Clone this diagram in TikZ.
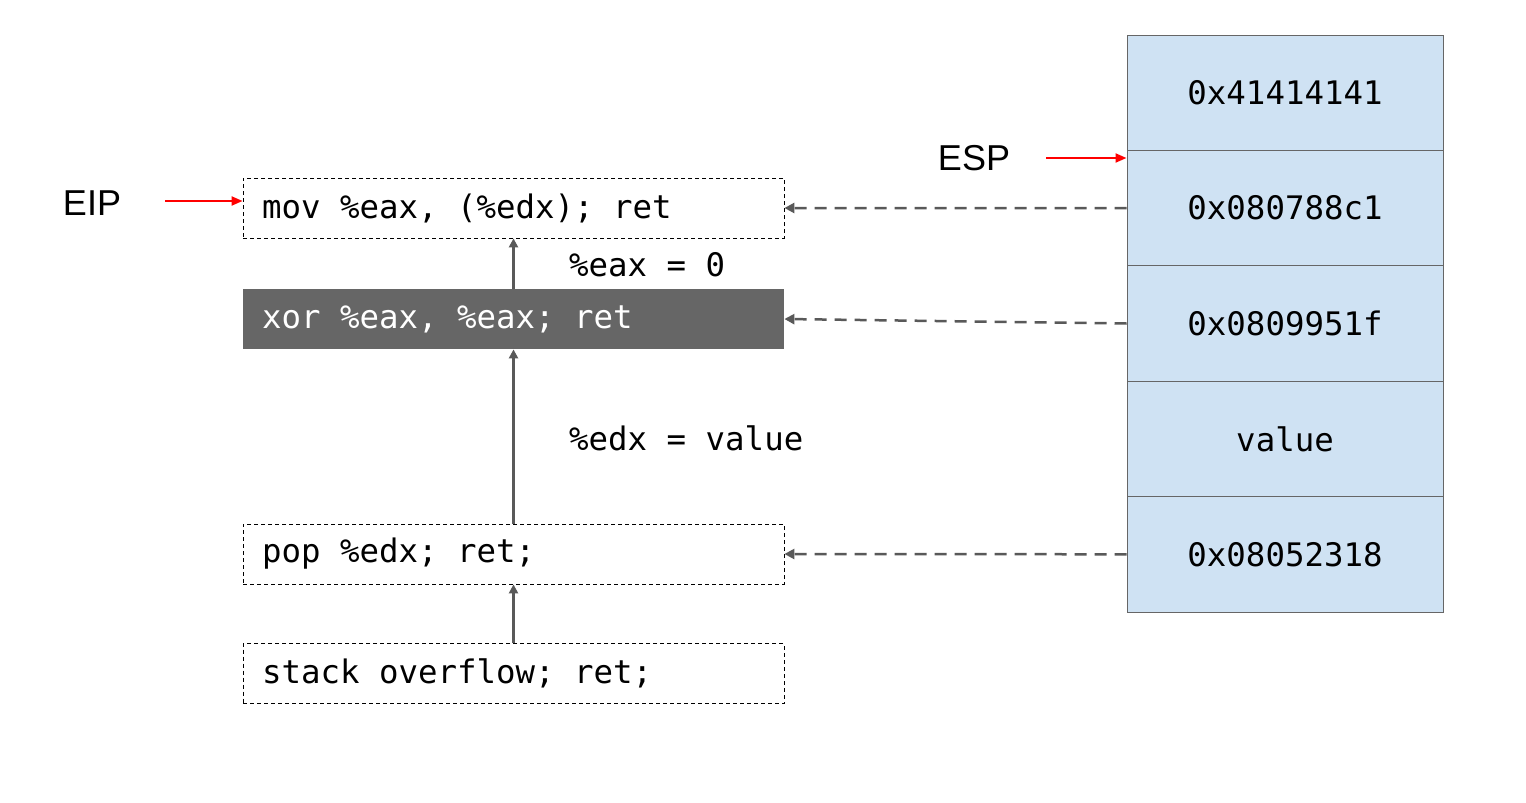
\documentclass[tikz,border=0pt]{standalone}
\usepackage{fontspec}
\setmainfont{Liberation Sans}
\newfontfamily\codefont{DejaVu Sans Mono}
\usetikzlibrary{arrows.meta}
\definecolor{stackblue}{HTML}{CFE2F3}
\definecolor{edgegray}{HTML}{666666}
\definecolor{arrgray}{HTML}{595959}
\newcommand{\gtext}[1]{\makebox[503pt][l]{#1}}
\begin{document}
\begin{tikzpicture}[x=1pt,y=-1pt,
  code/.style={font=\codefont\fontsize{32.4}{36}\selectfont},
  gadget/.style={draw=black,dashed,dash pattern=on 4pt off 3pt,line width=0.8pt,minimum width=541pt,minimum height=60pt,inner sep=0pt,code},
  cell/.style={draw=edgegray,fill=stackblue,line width=1pt,minimum width=316pt,minimum height=115.4pt,inner sep=0pt,code},
  flow/.style={arrgray,line width=2.5pt,-{Triangle[length=9pt,width=9pt]}},
  ref/.style={arrgray,line width=2.5pt,dash pattern=on 12pt off 8pt,-{Triangle[length=10pt,width=10pt]}},
  ptr/.style={red,line width=2pt,-{Triangle[length=11pt,width=9pt]}},
  lbl/.style={font=\fontsize{36}{40}\selectfont}]
\useasboundingbox (0,0) rectangle (1526,803);
% stack
\node[cell] (c1) at (1285,92.7) {0x41414141};
\node[cell] (c2) at (1285,208.1) {0x080788c1};
\node[cell] (c3) at (1285,323.5) {0x0809951f};
\node[cell] (c4) at (1285,438.9) {value};
\node[cell] (c5) at (1285,554.3) {0x08052318};
% gadgets
\node[gadget] (g1) at (513.5,208) {\gtext{mov \%eax, (\%edx); ret}};
\node[gadget,draw=none,fill=edgegray,text=white] (g2) at (513.5,319) {\gtext{xor \%eax, \%eax; ret}};
\node[gadget] (g3) at (513.5,554) {\gtext{pop \%edx; ret;}};
\node[gadget] (g4) at (513.5,673.5) {\gtext{stack overflow; ret;}};
% labels
\node[code,anchor=west,inner sep=0pt] (l1) at (569,265) {\%eax = 0};
\node[code,anchor=west,inner sep=0pt] (l2) at (569,438) {\%edx = value};
\node[lbl] (eip) at (92,203) {EIP};
\node[lbl] (esp) at (974,158) {ESP};
% flow arrows
\draw[flow] (g4.north) -- (g3.south);
\draw[flow] (g3.north) -- (g2.south);
\draw[flow] (g2.north) -- (g1.south);
% stack references
\draw[ref] (c2.west) -- (g1.east);
\draw[ref] (c3.west) -- (g2.east);
\draw[ref] (c5.west) -- (g3.east);
% pointers
\coordinate (eipstart) at (165,201);
\coordinate (espstart) at (1046,158);
\draw[ptr] (eipstart) -- (g1.west |- eipstart);
\draw[ptr] (espstart) -- (c1.west |- espstart);
\end{tikzpicture}
\end{document}
